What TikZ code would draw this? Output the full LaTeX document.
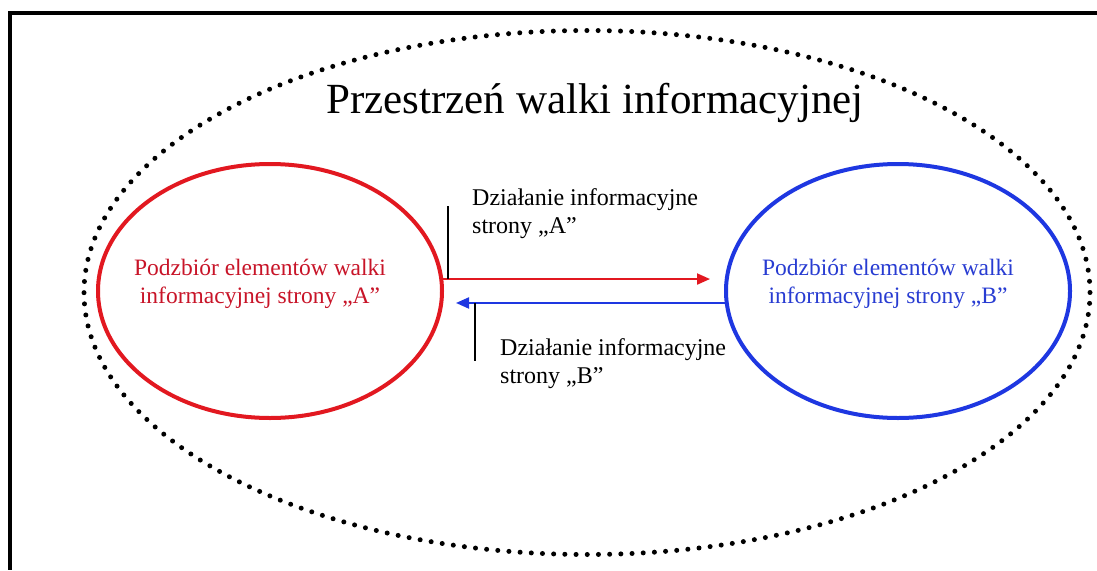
\documentclass[tikz,border=0pt]{standalone}
\usepackage{fontspec}
\setmainfont{Liberation Serif}
\usetikzlibrary{shapes.geometric,arrows.meta}
\definecolor{sideA}{RGB}{226,24,32}
\definecolor{sideAtext}{RGB}{200,20,40}
\definecolor{sideB}{RGB}{30,55,225}
\definecolor{sideBtext}{RGB}{40,60,210}
\tikzset{
  frame/.style={line width=4pt},
  space/.style={line width=5pt, line cap=round, dash pattern=on 0pt off 11.2pt},
  subset/.style={ellipse, line width=4pt, minimum width=344pt, minimum height=254pt,
                 inner sep=0pt, outer sep=0pt},
  subsettext/.style={align=center, inner sep=0pt, font=\fontsize{23.5}{28}\selectfont},
  action/.style={line width=2pt, -{Triangle[length=13pt,width=11pt]}},
  tick/.style={line width=2.5pt},
  actlabel/.style={anchor=base west, align=left, inner sep=0pt,
                   font=\fontsize{24}{28}\selectfont},
}
\begin{document}
\begin{tikzpicture}[x=1pt,y=-1pt]
  \useasboundingbox (0,0) rectangle (1097,570);
  \fill[white] (0,0) rectangle (1097,570);

  % outer frame (top and left edges)
  \coordinate (fTL) at (10,13);
  \coordinate (fTR) at (1097,13);
  \coordinate (fBL) at (10,570);
  \draw[frame] (fTR) -- (fTL) -- (fBL);

  % information warfare space
  \draw[space] (587,292.5) ellipse [x radius=503pt, y radius=262pt];
  \node[font=\fontsize{43}{50}\selectfont, anchor=base] (title) at (595,113)
    {Przestrzeń walki informacyjnej};

  % the two sides
  \node[subset, draw=sideA] (A) at (270,291) {};
  \node[subset, draw=sideB] (B) at (898,291) {};
  \node[subsettext, text=sideAtext] (Atext) at ([shift={(-10,-7)}]A.center)
    {Podzbiór elementów walki\\informacyjnej strony „A”};
  \node[subsettext, text=sideBtext] (Btext) at ([shift={(-10,-7)}]B.center)
    {Podzbiór elementów walki\\informacyjnej strony „B”};

  % information actions (horizontal, starting on the ellipse borders)
  \coordinate (tipA) at (710,277);
  \coordinate (tipB) at (456,305);
  \draw[action, sideA] (A.4.7) -- (tipA |- A.4.7);
  \draw[action, sideB] (B.184.7) -- (tipB |- B.184.7);

  \coordinate (tickAtop) at (448,206);
  \coordinate (tickBbot) at (475,361);
  \draw[tick] (tickAtop) -- (tickAtop |- A.4.7);
  \draw[tick] (tickBbot |- B.184.7) -- (tickBbot);

  \node[actlabel] (labA) at (472,233) {Działanie informacyjne\\strony „A”};
  \node[actlabel] (labB) at (500,383) {Działanie informacyjne\\strony „B”};
\end{tikzpicture}
\end{document}
